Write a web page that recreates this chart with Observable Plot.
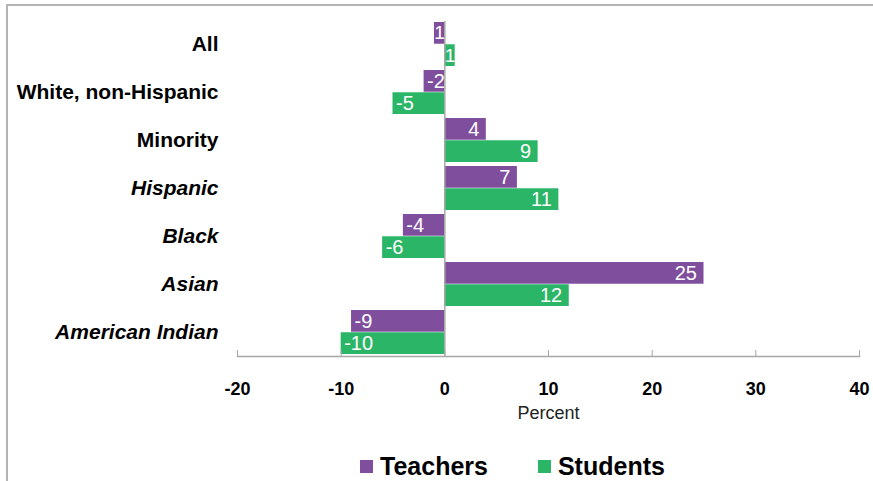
<!DOCTYPE html>
<html><head><meta charset="utf-8">
<script src="https://cdn.jsdelivr.net/npm/d3@7"></script>
<script src="https://cdn.jsdelivr.net/npm/@observablehq/plot@0.6"></script>
<style>
body{margin:0;background:#fff;font-family:"Liberation Sans",Arial,sans-serif}
#wrap{position:relative;width:873px;height:481px;overflow:hidden;background:#fff}
#border{position:absolute;left:6px;top:4px;right:-10px;bottom:-10px;border-top:2px solid #b3b3b3;border-left:2px solid #b3b3b3}
#chart{position:absolute;left:0;top:0}
#legend{position:absolute;left:360px;top:452px;display:flex;align-items:center;font-weight:bold;font-size:25px;line-height:28px;color:#000}
.item{display:flex;align-items:center;margin-right:50px}
.sw{width:13px;height:13px;margin-right:7px}
</style></head><body>
<div id="wrap"><div id="border"></div><div id="chart"></div><div id="legend"></div></div>
<script>
const categories = ["All","White, non-Hispanic","Minority","Hispanic","Black","Asian","American Indian"];
const italicCategories = ["Hispanic","Black","Asian","American Indian"];
const series = ["Teachers","Students"];
const teachers = [-1,-2,4,7,-4,25,-9];
const students = [1,-5,9,11,-6,12,-10];
const teacherLabels = ["1","-2","4","7","-4","25","-9"];
const studentLabels = ["1","-5","9","11","-6","12","-10"];
const xTicks = [-20,-10,0,10,20,30,40];
const colors = ["#7F4F9E","#2BB566"];

const rows = [];
categories.forEach((c,i)=>{
  rows.push({category:c, series:series[0], value:teachers[i], label:teacherLabels[i]});
  rows.push({category:c, series:series[1], value:students[i], label:studentLabels[i]});
});
const H = 430, mT = 21, mB = 74, pI = 0.08;
const step = (H - mT - mB) / (categories.length - pI);
const half = step * (1 - pI) / 2;

const T = rows.filter(d=>d.series===series[0]);
const S = rows.filter(d=>d.series===series[1]);
function labels(data, dy) {
  const common = {y:"category", text:"label", dy, fill:"white", fontSize:20};
  return [
    Plot.text(data.filter(d=>d.value>=2), {...common, x:"value", dx:-7, textAnchor:"end"}),
    Plot.text(data.filter(d=>d.value<=-2), {...common, x:"value", dx:3, textAnchor:"start"}),
    Plot.text(data.filter(d=>Math.abs(d.value)<2), {...common, x:d=>d.value/2, textAnchor:"middle", fontSize:19})
  ];
}
const plain = categories.filter(c=>!italicCategories.includes(c));
const chart = Plot.plot({
  width: 873, height: H,
  marginLeft: 237, marginRight: 14, marginTop: mT, marginBottom: mB,
  style: {fontFamily: "Liberation Sans, Arial, sans-serif", background: "transparent", overflow: "visible"},
  x: {domain: [-20, 40]},
  y: {domain: categories, paddingInner: pI, paddingOuter: 0},
  color: {domain: series, range: colors},
  marks: [
    Plot.barX(T, {x:"value", y:"category", fill:"series", insetBottom: half}),
    Plot.barX(S, {x:"value", y:"category", fill:"series", insetTop: half}),
    Plot.ruleX([0], {stroke:"#a6a6a6", strokeWidth:1.5}),
    Plot.frame({anchor:"bottom", stroke:"#a6a6a6", strokeWidth:1.5}),
    Plot.axisX(xTicks, {tickSize:-6, tickFormat:()=>"", label:null, stroke:"#a6a6a6"}),
    Plot.axisX(xTicks, {tickSize:0, tickPadding:26, tickFormat:d=>String(d), fontSize:18, fontWeight:"bold", fill:"black", label:null}),
    Plot.axisX([], {tickSize:0, label:"Percent", labelAnchor:"center", labelOffset:62, fontSize:18, fill:"#222", labelArrow:"none"}),
    Plot.axisY(plain, {tickSize:0, tickPadding:19, fontSize:21, fontWeight:"bold", fill:"black", label:null}),
    Plot.axisY(italicCategories, {tickSize:0, tickPadding:19, fontSize:21, fontWeight:"bold", fontStyle:"italic", fill:"black", label:null}),
    ...labels(T, -half/2),
    ...labels(S, half/2)
  ]
});
document.getElementById("chart").appendChild(chart);
const lg = document.getElementById("legend");
series.forEach((s,i)=>{
  const it = document.createElement("div"); it.className="item";
  const sw = document.createElement("div"); sw.className="sw"; sw.style.background = colors[i];
  const tx = document.createElement("span"); tx.textContent = s;
  it.appendChild(sw); it.appendChild(tx); lg.appendChild(it);
});
</script></body></html>
